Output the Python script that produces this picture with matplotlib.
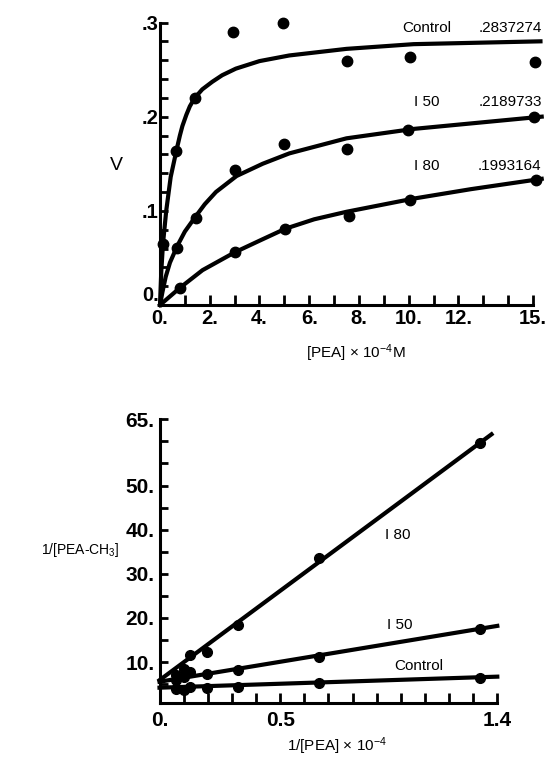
import matplotlib
matplotlib.use("Agg")
import matplotlib.pyplot as plt

plt.rcParams['font.family'] = ['Liberation Sans', 'DejaVu Sans']
plt.rcParams['mathtext.fontset'] = 'custom'
plt.rcParams['mathtext.rm'] = 'Liberation Sans'
plt.rcParams['mathtext.it'] = 'Liberation Sans:italic'

# ---- top panel: V vs [PEA] x 10^-4 M ----
ctrl_s = [0.12, 0.66, 1.40, 2.94, 4.93, 7.53, 10.04, 15.1]
ctrl_v = [0.065, 0.164, 0.220, 0.290, 0.299, 0.259, 0.263, 0.258]
i50_s = [0.70, 1.46, 3.01, 5.0, 7.53, 9.97, 15.04]
i50_v = [0.061, 0.092, 0.143, 0.171, 0.166, 0.186, 0.200]
i80_s = [0.79, 3.01, 5.04, 7.62, 10.04, 15.12]
i80_v = [0.018, 0.056, 0.081, 0.094, 0.111, 0.133]

# fitted curves
ctrl_fit_s = [0, 0.05, 0.12, 0.25, 0.43, 0.66, 0.8, 0.9, 1.06, 1.2, 1.4, 1.7, 2.1, 2.5, 3.05, 4.0, 5.2, 7.5, 10.2, 15.3]
ctrl_fit_v = [0, 0.035, 0.065, 0.100, 0.136, 0.164, 0.180, 0.190, 0.202, 0.211, 0.220, 0.229, 0.237, 0.244, 0.251, 0.259, 0.265, 0.272, 0.277, 0.280]
i50_fit_s = [0, 0.1, 0.23, 0.4, 0.70, 1.0, 1.46, 1.8, 2.25, 3.08, 4.13, 5.2, 7.5, 10.2, 15.35]
i50_fit_v = [0, 0.014, 0.030, 0.045, 0.063, 0.078, 0.095, 0.107, 0.120, 0.137, 0.150, 0.161, 0.177, 0.187, 0.200]
i80_fit_s = [0, 0.79, 1.71, 3.01, 4.06, 5.04, 6.2, 7.5, 10.2, 12.5, 15.35]
i80_fit_v = [0, 0.018, 0.037, 0.056, 0.069, 0.081, 0.091, 0.099, 0.113, 0.123, 0.134]

vmax_labels = ['.2837274', '.2189733', '.1993164']
series_names = ['Control', 'I 50', 'I 80']

top_xticks = [0, 2, 4, 6, 8, 10, 12, 15]
top_xlabels = ['0.', '2.', '4.', '6.', '8.', '10.', '12.', '15.']
top_yticks = [0, 0.1, 0.2, 0.3]
top_ylabels = ['0.', '.1', '.2', '.3']

# ---- bottom panel: double reciprocal ----
recip_x = [0.067, 0.1, 0.125, 0.195, 0.327, 0.66, 1.33]
ctrl_r = [3.9, 3.7, 4.4, 4.1, 4.4, 5.2, 6.4]
i50_r = [6.0, 6.6, 7.7, 7.2, 8.3, 11.2, 17.6]
i80_r = [7.0, 8.5, 11.6, 12.3, 18.5, 33.6, 59.6]

ctrl_line_x = [0, 1.4]
ctrl_line_y = [4.2, 6.7]
i50_line_x = [0, 1.4]
i50_line_y = [5.55, 18.2]
i80_line_x = [0, 1.376]
i80_line_y = [5.9, 61.6]

bot_xticks = [0, 0.5, 1.4]
bot_xlabels = ['0.', '0.5', '1.4']
bot_yticks = [10, 20, 30, 40, 50, 65]
bot_ylabels = ['10.', '20.', '30.', '40.', '50.', '65.']

W, H = 552, 757
fig = plt.figure(figsize=(W / 100, H / 100), dpi=100)


def px(x, y):
    return x / W, 1 - y / H


def style_axes(ax):
    for s in ['top', 'right']:
        ax.spines[s].set_visible(False)
    for s in ['left', 'bottom']:
        ax.spines[s].set_linewidth(2.2)
    ax.xaxis.set_tick_params(which='both', bottom=True, top=False,
                             direction='in', length=7, width=2)
    ax.yaxis.set_tick_params(which='both', left=True, right=False,
                             direction='in', length=6, width=2)


#-------------------TOP-------------------
ax1 = fig.add_axes([160 / W, 1 - 305 / H, 373 / W, 282.5 / H])
lw = 3.0
ms = 7.5
ax1.plot(ctrl_fit_s, ctrl_fit_v, color='black', lw=lw, clip_on=False,
         solid_joinstyle='round')
ax1.plot(i50_fit_s, i50_fit_v, color='black', lw=lw, clip_on=False,
         solid_joinstyle='round')
ax1.plot(i80_fit_s, i80_fit_v, color='black', lw=lw, clip_on=False,
         solid_joinstyle='round')
ax1.plot(ctrl_s, ctrl_v, 'o', color='black', ms=ms, clip_on=False)
ax1.plot(i50_s, i50_v, 'o', color='black', ms=ms, clip_on=False)
ax1.plot(i80_s, i80_v, 'o', color='black', ms=ms, clip_on=False)
ax1.set_xlim(0, 15)
ax1.set_ylim(0, 0.3)
ax1.set_xticks(top_xticks, top_xlabels, fontsize=14.5, fontweight='bold')
ax1.set_xticks(range(1, 16), minor=True)
ax1.set_yticks(top_yticks, top_ylabels, fontsize=14.5, fontweight='bold')
ax1.set_yticks([i * 0.02 for i in range(1, 15)], minor=True)
style_axes(ax1)
ax1.tick_params(axis='x', which='major', pad=3)
ax1.tick_params(axis='y', which='major', pad=1)
ax1.get_yticklabels()[0].set_verticalalignment('bottom')

# curve labels
label_rows = [28, 101.7, 166]
for name, vm, yy in zip(series_names, vmax_labels, label_rows):
    fig.text(*px(426.7, yy), name, fontsize=11, ha='center', va='center')
    fig.text(*px(541.7, yy), vm, fontsize=11, ha='right', va='center')

fig.text(*px(116.7, 165), 'V', fontsize=14, ha='center', va='center')
fig.text(*px(356, 353), r'[PEA] $\times$ 10$^{-4}$M', fontsize=11,
         ha='center', va='center')

#-------------------BOTTOM-------------------
ax2 = fig.add_axes([159.5 / W, 1 - 702.7 / H, 337.8 / W, 283.4 / H])
ax2.plot(ctrl_line_x, ctrl_line_y, color='black', lw=lw, clip_on=False)
ax2.plot(i50_line_x, i50_line_y, color='black', lw=lw, clip_on=False)
ax2.plot(i80_line_x, i80_line_y, color='black', lw=lw, clip_on=False)
ax2.plot(recip_x, ctrl_r, 'o', color='black', ms=7, clip_on=False)
ax2.plot(recip_x, i50_r, 'o', color='black', ms=7, clip_on=False)
ax2.plot(recip_x, i80_r, 'o', color='black', ms=7, clip_on=False)
ax2.set_xlim(0, 1.4)
ax2.set_ylim(0.8, 65)
ax2.set_xticks(bot_xticks, bot_xlabels, fontsize=15, fontweight='bold')
ax2.set_xticks([i * 0.1 for i in range(1, 15)], minor=True)
ax2.set_yticks(bot_yticks, bot_ylabels, fontsize=15, fontweight='bold')
ax2.set_yticks(range(5, 66, 5), minor=True)
style_axes(ax2)
ax2.tick_params(axis='x', which='major', pad=6)
ax2.tick_params(axis='y', which='major', pad=3.5)

fig.text(*px(397.3, 535), 'I 80', fontsize=11, ha='center', va='center')
fig.text(*px(400, 625), 'I 50', fontsize=11, ha='center', va='center')
fig.text(*px(418.3, 666), 'Control', fontsize=11, ha='center', va='center')

fig.text(*px(80, 550), r'1/[PEA-CH$_3$]', fontsize=10, ha='center', va='center')
fig.text(*px(336.7, 746), r'1/[PEA] $\times$ 10$^{-4}$', fontsize=11,
         ha='center', va='center')

fig.savefig('out.png', dpi=100)
